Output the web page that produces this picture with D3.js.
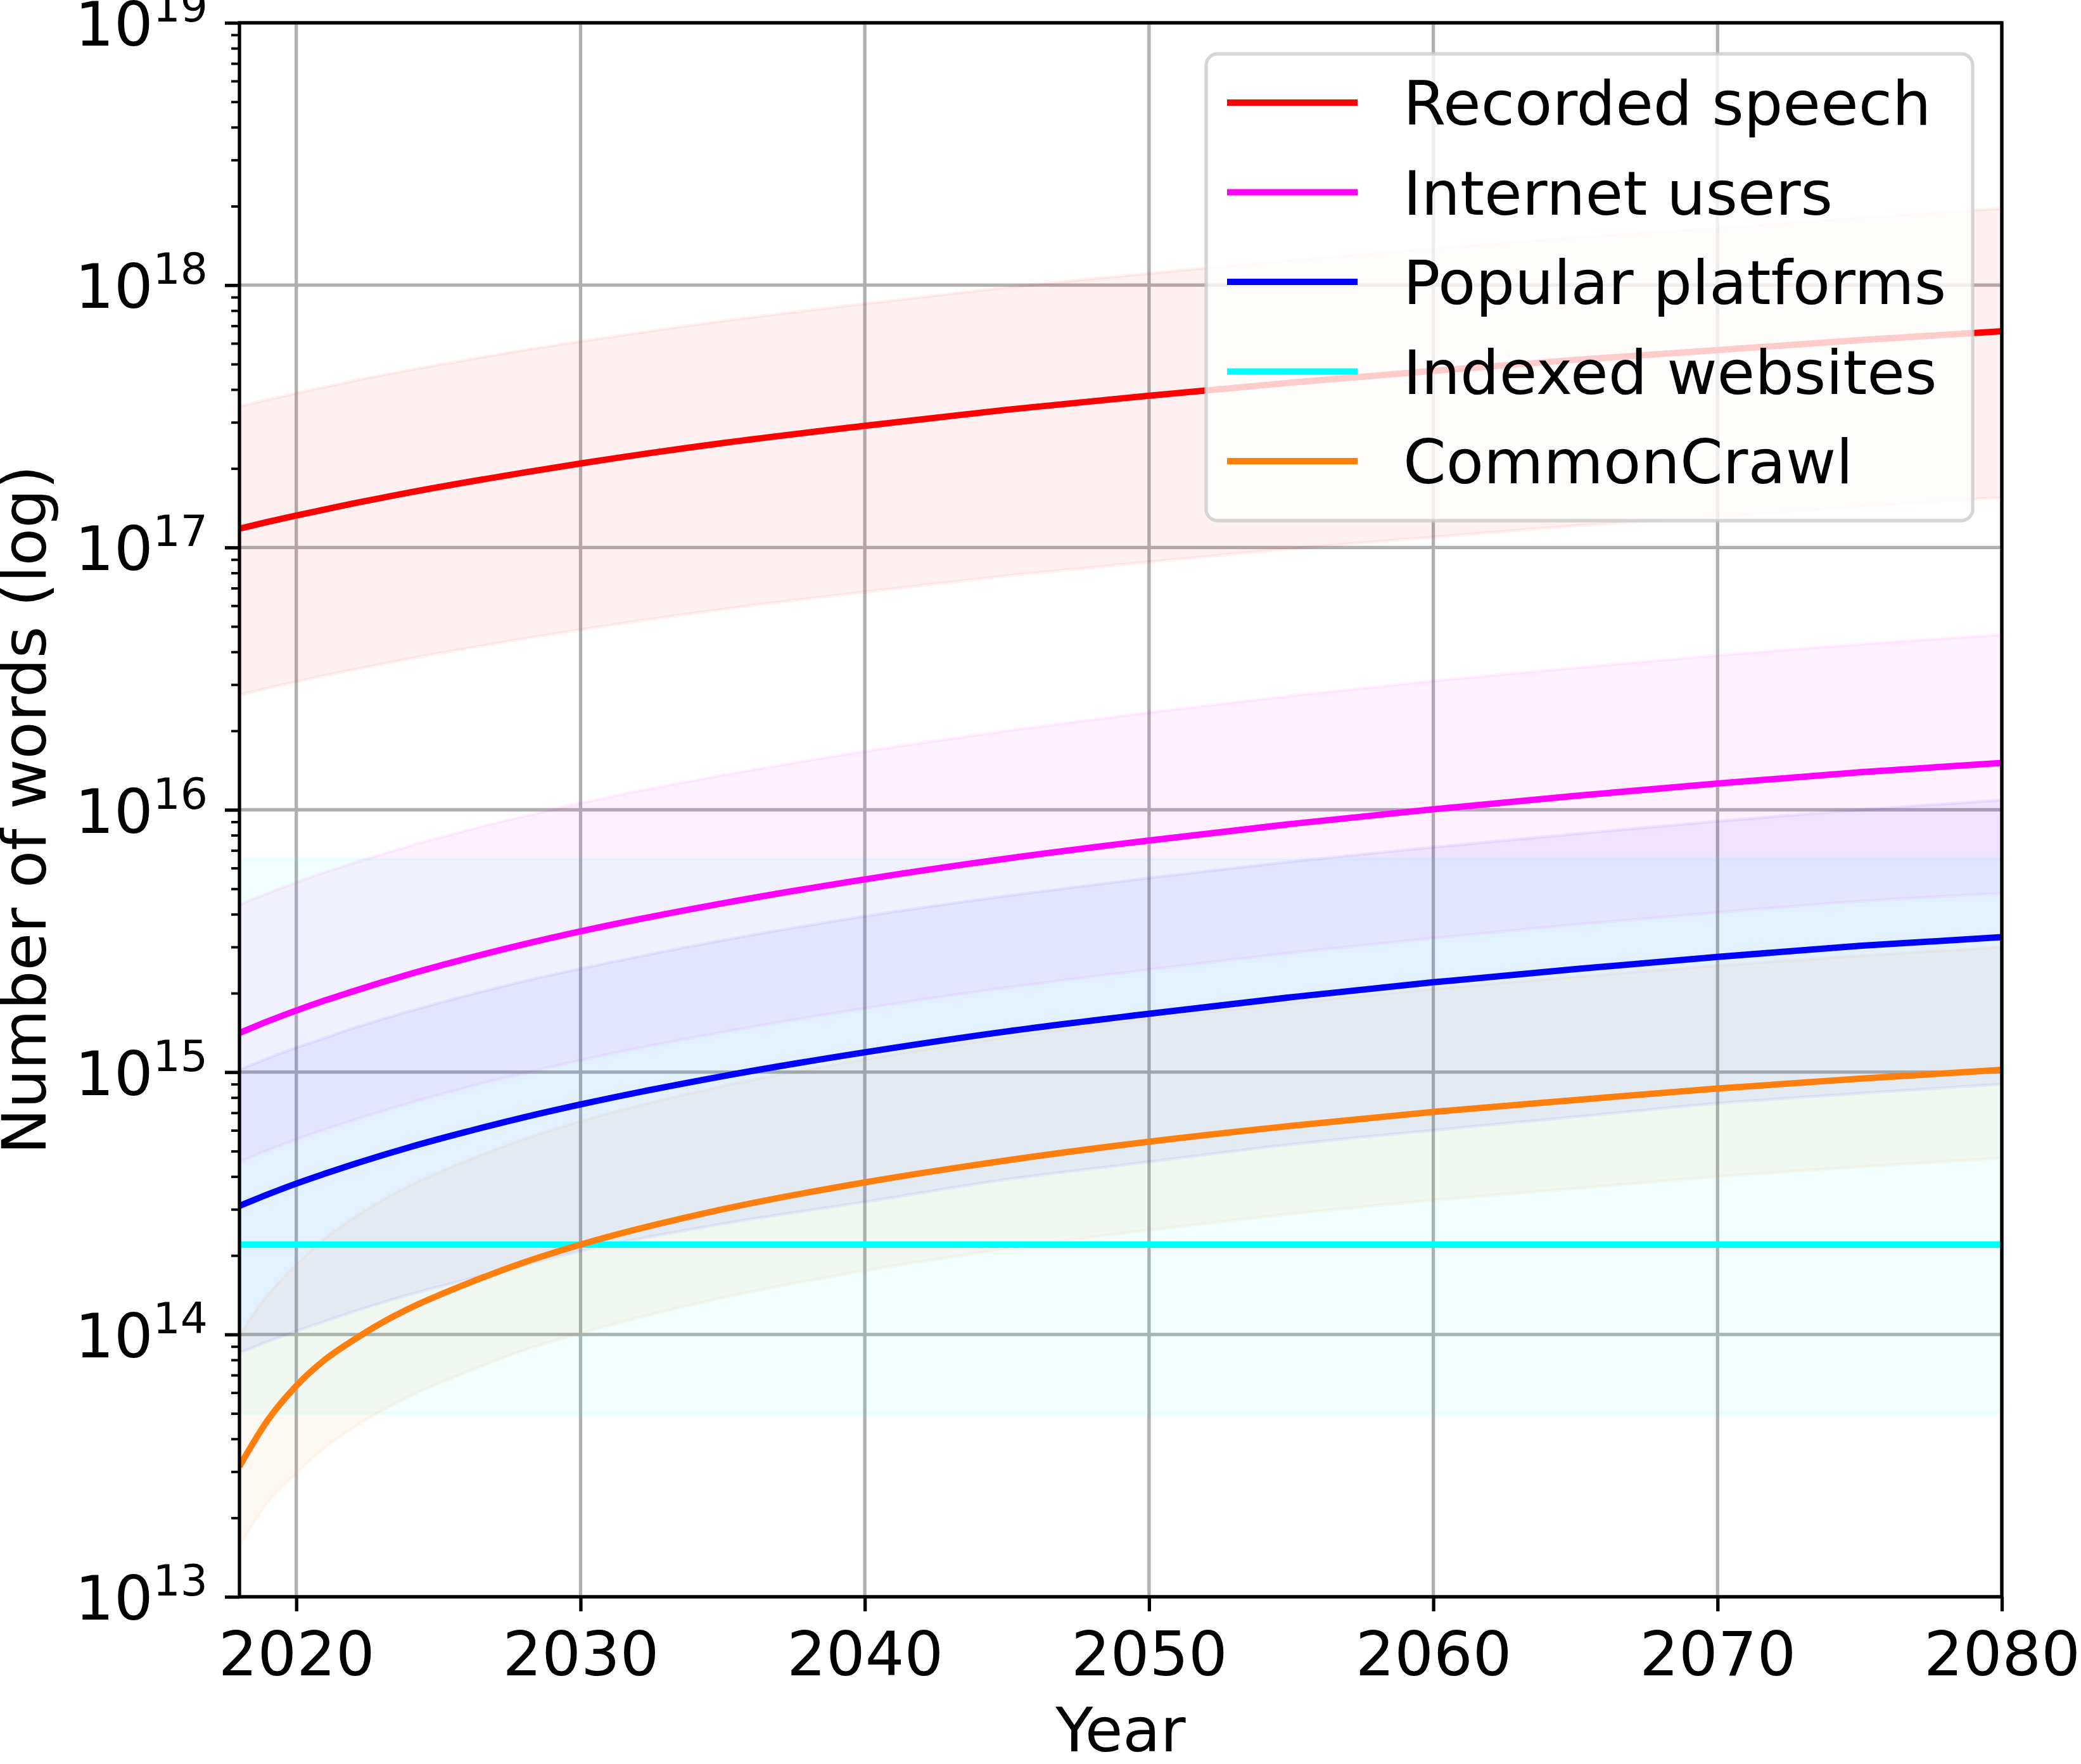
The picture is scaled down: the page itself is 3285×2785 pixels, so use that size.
<!DOCTYPE html>
<html><head><meta charset="utf-8">
<script src="https://cdn.jsdelivr.net/npm/d3@7"></script>
<style>body{margin:0;background:#fff}svg{display:block}text{font-family:"DejaVu Sans",sans-serif;fill:#000}</style>
</head><body><div id="chart"></div>
<script>
// ---- data ----
const years = [2018, 2019, 2020, 2021, 2022, 2023, 2024, 2026, 2028, 2030, 2035, 2040, 2045, 2050, 2055, 2060, 2065, 2070, 2075, 2080];

const speechMid  = [1.18e17, 1.252e17, 1.324e17, 1.396e17, 1.472e17, 1.545e17, 1.622e17, 1.774e17, 1.93e17, 2.09e17, 2.50e17, 2.91e17, 3.35e17, 3.79e17, 4.25e17, 4.71e17, 5.19e17, 5.65e17, 6.17e17, 6.67e17];
const speechLow  = [2.74e16, 2.91e16, 3.08e16, 3.25e16, 3.42e16, 3.59e16, 3.77e16, 4.12e16, 4.49e16, 4.86e16, 5.81e16, 6.77e16, 7.80e16, 8.80e16, 9.90e16, 1.095e17, 1.21e17, 1.31e17, 1.43e17, 1.55e17];
const speechHigh = [3.45e17, 3.66e17, 3.87e17, 4.09e17, 4.31e17, 4.53e17, 4.75e17, 5.19e17, 5.65e17, 6.10e17, 7.30e17, 8.50e17, 9.80e17, 1.11e18, 1.245e18, 1.38e18, 1.52e18, 1.65e18, 1.81e18, 1.96e18];

const internetMid  = [1.41e15, 1.563e15, 1.718e15, 1.875e15, 2.032e15, 2.198e15, 2.366e15, 2.71e15, 3.07e15, 3.44e15, 4.40e15, 5.43e15, 6.52e15, 7.64e15, 8.83e15, 1.005e16, 1.13e16, 1.26e16, 1.39e16, 1.51e16];
const internetLow  = [4.55e14, 5.04e14, 5.54e14, 6.05e14, 6.55e14, 7.09e14, 7.63e14, 8.75e14, 9.90e14, 1.11e15, 1.42e15, 1.75e15, 2.10e15, 2.46e15, 2.85e15, 3.24e15, 3.65e15, 4.06e15, 4.48e15, 4.80e15];
const internetHigh = [4.34e15, 4.81e15, 5.29e15, 5.78e15, 6.26e15, 6.77e15, 7.29e15, 8.35e15, 9.45e15, 1.06e16, 1.355e16, 1.67e16, 2.00e16, 2.35e16, 2.72e16, 3.10e16, 3.48e16, 3.88e16, 4.28e16, 4.65e16];

const platformMid  = [3.09e14, 3.42e14, 3.76e14, 4.10e14, 4.45e14, 4.81e14, 5.18e14, 5.93e14, 6.72e14, 7.53e14, 9.65e14, 1.19e15, 1.43e15, 1.67e15, 1.93e15, 2.20e15, 2.47e15, 2.75e15, 3.03e15, 3.27e15];
const platformLow  = [8.50e13, 9.40e13, 1.03e14, 1.12e14, 1.22e14, 1.32e14, 1.42e14, 1.62e14, 1.84e14, 2.08e14, 2.64e14, 3.20e14, 3.90e14, 4.55e14, 5.30e14, 6.00e14, 6.75e14, 7.60e14, 8.30e14, 9.00e14];
const platformHigh = [1.02e15, 1.13e15, 1.24e15, 1.35e15, 1.47e15, 1.59e15, 1.71e15, 1.96e15, 2.22e15, 2.48e15, 3.18e15, 3.93e15, 4.70e15, 5.50e15, 6.35e15, 7.20e15, 8.10e15, 9.05e15, 1.00e16, 1.09e16];

const indexedYears = [2018, 2080];
const indexedMid  = [2.2e14, 2.2e14];
const indexedLow  = [5.0e13, 5.0e13];
const indexedHigh = [6.5e15, 6.5e15];

const crawlMid  = [3.14e13, 4.72e13, 6.37e13, 8.00e13, 9.50e13, 1.107e14, 1.26e14, 1.56e14, 1.88e14, 2.20e14, 3.00e14, 3.80e14, 4.61e14, 5.43e14, 6.24e14, 7.05e14, 7.83e14, 8.66e14, 9.44e14, 1.02e15];
const crawlLow  = [1.56e13, 2.30e13, 2.95e13, 3.70e13, 4.40e13, 5.12e13, 5.82e13, 7.20e13, 8.70e13, 1.01e14, 1.38e14, 1.75e14, 2.12e14, 2.50e14, 2.88e14, 3.25e14, 3.60e14, 4.00e14, 4.35e14, 4.70e14];
const crawlHigh = [1.00e14, 1.42e14, 1.85e14, 2.32e14, 2.78e14, 3.24e14, 3.70e14, 4.60e14, 5.55e14, 6.50e14, 8.85e14, 1.12e15, 1.36e15, 1.60e15, 1.84e15, 2.08e15, 2.31e15, 2.55e15, 2.78e15, 3.00e15];

const seriesNames = ["Recorded speech", "Internet users", "Popular platforms", "Indexed websites", "CommonCrawl"];
const seriesColors = ["#ff0000", "#ff00ff", "#0000ff", "#00ffff", "#ff7f0e"];
const xTickValues = [2020, 2030, 2040, 2050, 2060, 2070, 2080];
const yTickValues = [1e13, 1e14, 1e15, 1e16, 1e17, 1e18, 1e19];
const yTickExponents = ["13", "14", "15", "16", "17", "18", "19"];
const xLabel = "Year";
const yLabel = "Number of words (log)";

// ---- build series ----
function rows(ys, mid, lo, hi) { return ys.map((yr, i) => ({year: yr, mid: mid[i], lo: lo[i], hi: hi[i]})); }
const series = [
  rows(years, speechMid, speechLow, speechHigh),
  rows(years, internetMid, internetLow, internetHigh),
  rows(years, platformMid, platformLow, platformHigh),
  rows(indexedYears, indexedMid, indexedLow, indexedHigh),
  rows(years, crawlMid, crawlLow, crawlHigh)
];

// ---- layout ----
const W = 3285, H = 2785;
const L = 378, R = 3160, T = 36, B = 2521;
const FS = 97;
const x = d3.scaleLinear().domain([2018, 2080]).range([L, R]);
const y = d3.scaleLog().domain([1e13, 1e19]).range([B, T]);

const svg = d3.select("#chart").append("svg").attr("width", W).attr("height", H);
svg.append("defs").append("clipPath").attr("id", "plotclip")
  .append("rect").attr("x", L).attr("y", T).attr("width", R - L).attr("height", B - T);

// grid
const grid = svg.append("g");
grid.selectAll("line.gx").data(xTickValues).join("line")
  .attr("x1", d => x(d)).attr("x2", d => x(d)).attr("y1", T).attr("y2", B)
  .attr("stroke", "#b0b0b0").attr("stroke-width", 5.3);
grid.selectAll("line.gy").data(yTickValues).join("line")
  .attr("x1", L).attr("x2", R).attr("y1", d => y(d)).attr("y2", d => y(d))
  .attr("stroke", "#b0b0b0").attr("stroke-width", 5.3);

// bands and lines
const plot = svg.append("g").attr("clip-path", "url(#plotclip)");
const area = d3.area().x(d => x(d.year)).y0(d => y(d.lo)).y1(d => y(d.hi)).curve(d3.curveMonotoneX);
const line = d3.line().x(d => x(d.year)).y(d => y(d.mid)).curve(d3.curveMonotoneX);
series.forEach((s, i) => {
  plot.append("path").attr("d", area(s))
    .attr("fill", seriesColors[i]).attr("fill-opacity", 0.055)
    .attr("stroke", seriesColors[i]).attr("stroke-opacity", 0.055).attr("stroke-width", 5);
});
series.forEach((s, i) => {
  plot.append("path").attr("d", line(s))
    .attr("fill", "none").attr("stroke", seriesColors[i]).attr("stroke-width", 10)
    .attr("stroke-linejoin", "round");
});

// axes
const xAxis = svg.append("g").attr("transform", `translate(0,${B})`)
  .call(d3.axisBottom(x).tickValues(xTickValues).tickFormat(d3.format("d")).tickSize(23).tickPadding(32));
xAxis.select(".domain").remove();
xAxis.selectAll(".tick line").attr("stroke", "#000").attr("stroke-width", 5.3);
xAxis.selectAll(".tick text").attr("font-size", FS).attr("font-family", "DejaVu Sans");

const minorVals = [];
for (let e = 13; e < 19; e++) for (let k = 2; k <= 9; k++) minorVals.push(k * Math.pow(10, e));
const yMinor = svg.append("g").attr("transform", `translate(${L},0)`)
  .call(d3.axisLeft(y).tickValues(minorVals).tickFormat("").tickSize(13));
yMinor.select(".domain").remove();
yMinor.selectAll(".tick line").attr("stroke", "#000").attr("stroke-width", 3.9);

const yAxis = svg.append("g").attr("transform", `translate(${L},0)`)
  .call(d3.axisLeft(y).tickValues(yTickValues).tickFormat("").tickSize(23));
yAxis.select(".domain").remove();
yAxis.selectAll(".tick line").attr("stroke", "#000").attr("stroke-width", 5.3);

const yl = svg.append("g");
yTickValues.forEach((v, i) => {
  const t = yl.append("text").attr("x", L - 50).attr("y", y(v) + 36)
    .attr("text-anchor", "end").attr("font-size", FS);
  t.append("tspan").text("10");
  t.append("tspan").attr("font-size", FS * 0.7).attr("dy", -38).attr("dx", 0).text(yTickExponents[i]);
});

// spines
svg.append("rect").attr("x", L).attr("y", T).attr("width", R - L).attr("height", B - T)
  .attr("fill", "none").attr("stroke", "#000").attr("stroke-width", 5.3);

// axis labels
svg.append("text").attr("x", (L + R) / 2).attr("y", 2765).attr("text-anchor", "middle")
  .attr("font-size", FS).text(xLabel);
svg.append("text").attr("transform", `translate(72,${(T + B) / 2}) rotate(-90)`)
  .attr("text-anchor", "middle").attr("font-size", FS).text(yLabel);

// legend
const lg = svg.append("g");
lg.append("rect").attr("x", 1904).attr("y", 85).attr("width", 1210).attr("height", 737).attr("rx", 18)
  .attr("fill", "#fff").attr("fill-opacity", 0.8)
  .attr("stroke", "#cccccc").attr("stroke-opacity", 0.8).attr("stroke-width", 5.3);
seriesNames.forEach((name, i) => {
  const cy = 162 + i * 141.5;
  lg.append("line").attr("x1", 1937).attr("x2", 2143).attr("y1", cy).attr("y2", cy)
    .attr("stroke", seriesColors[i]).attr("stroke-width", 10);
  lg.append("text").attr("x", 2215).attr("y", cy + 35).attr("font-size", FS).text(name);
});
</script>
</body></html>
